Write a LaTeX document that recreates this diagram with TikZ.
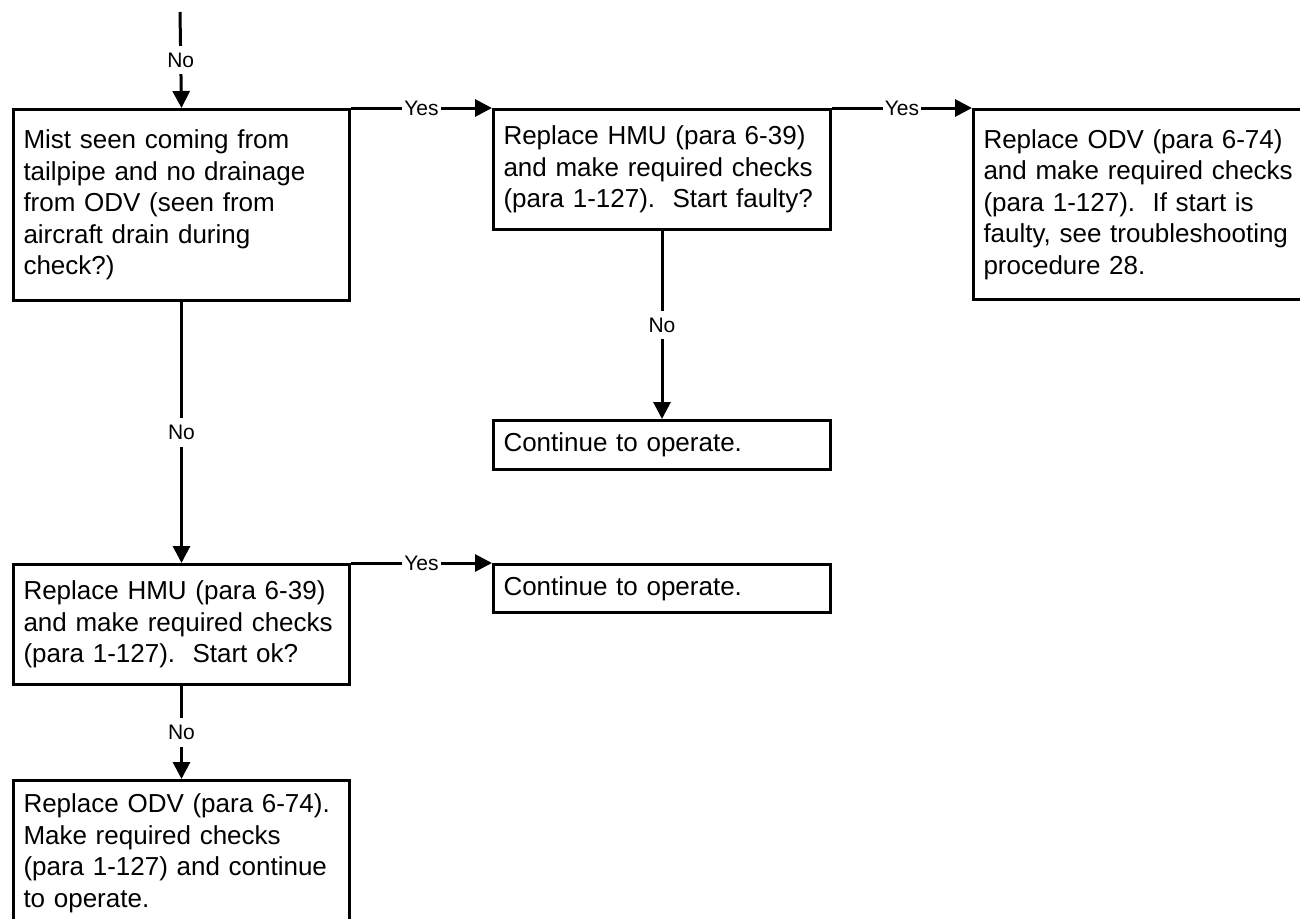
\documentclass[tikz,border=0pt]{standalone}
\usepackage{fontspec}
\setmainfont{Liberation Sans}
\usetikzlibrary{arrows.meta}
\newcommand\bxfont{\fontsize{26}{31.5}\selectfont}
\newcommand\lbfont{\fontsize{21}{24}\selectfont}
\tikzset{
  box/.style={draw, line width=3pt, rectangle, anchor=north west, align=left,
    inner xsep=10pt, inner ysep=0pt, font=\bxfont},
  lbl/.style={fill=white, inner xsep=2pt, inner ysep=7pt, font=\lbfont},
  flow/.style={line width=3pt, -{Triangle[length=17pt,width=17pt]}},
}
\begin{document}
\begin{tikzpicture}[x=1pt,y=-1pt]
\useasboundingbox (0,0) rectangle (1300,918);
\clip (0,0) rectangle (1300,918);

% decision and action boxes
\node[box, minimum width=336pt, text width=316pt, minimum height=191pt] (mist) at (12,108)
  {Mist seen coming from\\tailpipe and no drainage\\from ODV (seen from\\aircraft drain during\\check?)};
\node[box, minimum width=337pt, text width=317pt, minimum height=120pt] (hmuA) at (492,108)
  {Replace HMU (para 6-39)\\and make required checks\\(para 1-127).\ \ Start faulty?};
\node[box, minimum width=340pt, text width=320pt, minimum height=190pt] (odvA) at (972,108)
  {Replace ODV (para 6-74)\\and make required checks\\(para 1-127).\ \ If start is\\faulty, see troubleshooting\\procedure 28.};
\node[box, minimum width=337pt, text width=317pt, minimum height=49pt] (contA) at (492,419)
  {Continue to operate.};
\node[box, minimum width=336pt, text width=316pt, minimum height=120pt] (hmuB) at (12,563)
  {Replace HMU (para 6-39)\\and make required checks\\(para 1-127).\ \ Start ok?};
\node[box, minimum width=337pt, text width=317pt, minimum height=48pt] (contB) at (492,563)
  {Continue to operate.};
\node[box, minimum width=336pt, text width=316pt, minimum height=146pt] (odvB) at (12,779)
  {Replace ODV (para 6-74).\\Make required checks\\(para 1-127) and continue\\to operate.};

% incoming branch
\coordinate (entry) at (180,12);

% connectors
\draw[flow] (entry) -- node[lbl]{No} (mist.north);
\draw[flow] (mist.north east) -- node[lbl]{Yes} (hmuA.north west);
\draw[flow] (hmuA.north east) -- node[lbl]{Yes} (odvA.north west);
\draw[flow] (hmuA.south) -- node[lbl]{No} (contA.north);
\draw[flow] (mist.south) -- node[lbl]{No} (hmuB.north);
\draw[flow] (hmuB.north east) -- node[lbl]{Yes} (contB.north west);
\draw[flow] (hmuB.south) -- node[lbl]{No} (odvB.north);
\end{tikzpicture}
\end{document}
